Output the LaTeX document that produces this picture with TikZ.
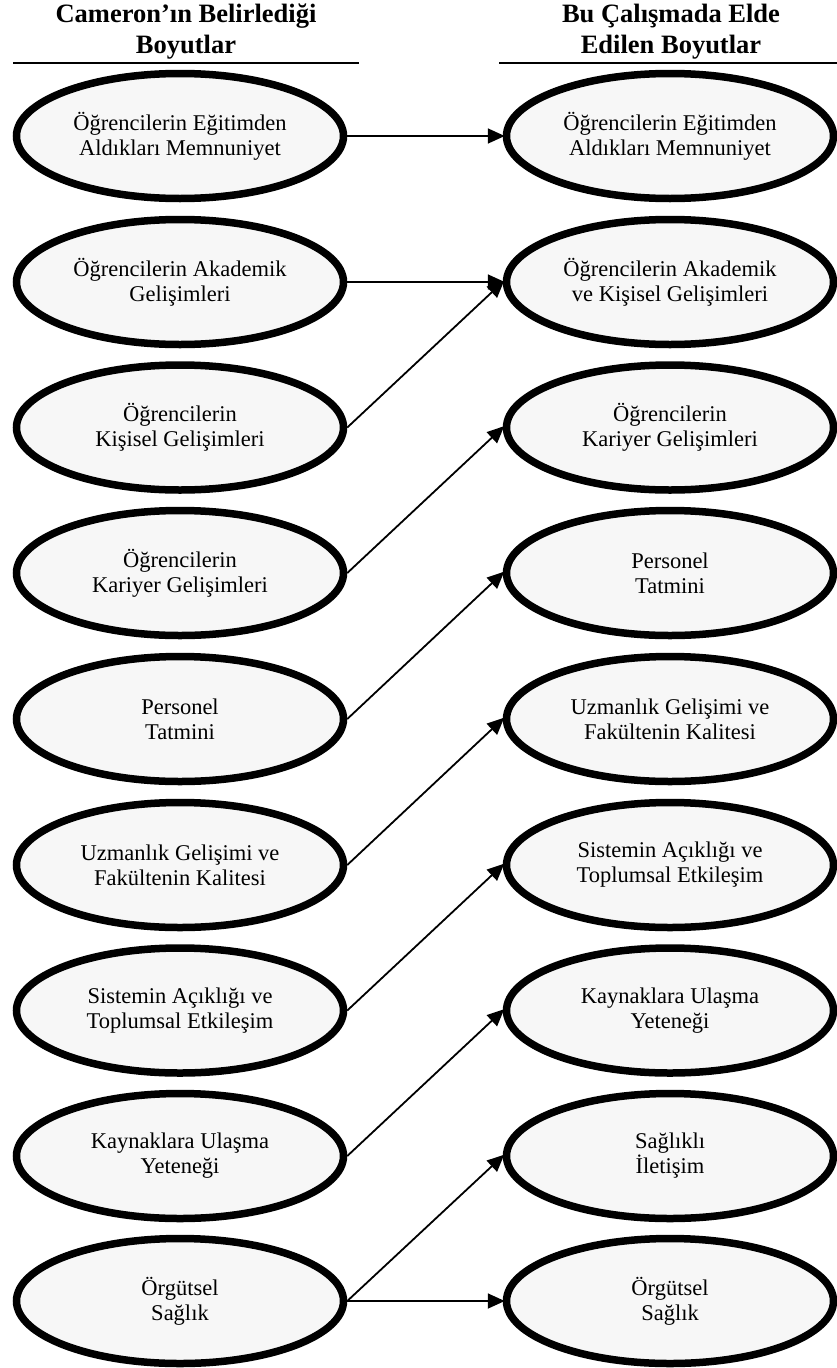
\documentclass[tikz,border=0pt]{standalone}
\usepackage{fontspec}
\setmainfont{Liberation Serif}
\usetikzlibrary{shapes.geometric,arrows.meta}
\tikzset{
  dim/.style={ellipse, draw=black, line width=7.5pt, fill=black!3,
    minimum width=327pt, minimum height=125pt, inner sep=0pt,
    align=center, font=\fontsize{22.5}{25}\selectfont},
  head/.style={align=center, inner sep=0pt, font=\fontsize{26.5}{31}\selectfont\bfseries},
  conn/.style={line width=1.8pt, -{Triangle[length=17pt,width=15pt]}, shorten >=-2pt},
  rule/.style={line width=2pt}
}
\begin{document}
\begin{tikzpicture}[x=1pt,y=-1pt]
\useasboundingbox (0,0) rectangle (837,1368);
% headers
\node[head, anchor=north] (hl) at (186,4) {Cameron’ın Belirlediği\\Boyutlar};
\node[head, anchor=north] (hr) at (671,4) {Bu Çalışmada Elde\\Edilen Boyutlar};
\coordinate (hl1) at (13,63); \coordinate (hl2) at (359,63);
\coordinate (hr1) at (499,63); \coordinate (hr2) at (837,63);
\draw[rule] (hl1) -- (hl2);
\draw[rule] (hr1) -- (hr2);
% left column
\node[dim] (L1) at (180,136) {Öğrencilerin Eğitimden\\Aldıkları Memnuniyet};
\node[dim] (L2) at (180,282) {Öğrencilerin Akademik\\Gelişimleri};
\node[dim] (L3) at (180,427.5) {Öğrencilerin\\Kişisel Gelişimleri};
\node[dim] (L4) at (180,573) {Öğrencilerin\\Kariyer Gelişimleri};
\node[dim] (L5) at (180,719) {Personel\\Tatmini};
\node[dim] (L6) at (180,865) {Uzmanlık Gelişimi ve\\Fakültenin Kalitesi};
\node[dim] (L7) at (180,1010.5) {Sistemin Açıklığı ve\\Toplumsal Etkileşim};
\node[dim] (L8) at (180,1156) {Kaynaklara Ulaşma\\Yeteneği};
\node[dim] (L9) at (180,1301) {Örgütsel\\Sağlık};
% right column
\node[dim] (R1) at (670,136) {Öğrencilerin Eğitimden\\Aldıkları Memnuniyet};
\node[dim] (R2) at (670,282) {Öğrencilerin Akademik\\ve Kişisel Gelişimleri};
\node[dim] (R3) at (670,427.5) {Öğrencilerin\\Kariyer Gelişimleri};
\node[dim] (R4) at (670,573) {Personel\\Tatmini};
\node[dim] (R5) at (670,719) {Uzmanlık Gelişimi ve\\Fakültenin Kalitesi};
\node[dim] (R6) at (670,865) {Sistemin Açıklığı ve\\Toplumsal Etkileşim};
\node[dim] (R7) at (670,1010.5) {Kaynaklara Ulaşma\\Yeteneği};
\node[dim] (R8) at (670,1156) {Sağlıklı\\İletişim};
\node[dim] (R9) at (670,1301) {Örgütsel\\Sağlık};
% connectors
\draw[conn] (L1.east) -- (R1.west);
\draw[conn] (L2.east) -- (R2.west);
\draw[conn] (L3.east) -- (R2.west);
\draw[conn] (L4.east) -- (R3.west);
\draw[conn] (L5.east) -- (R4.west);
\draw[conn] (L6.east) -- (R5.west);
\draw[conn] (L7.east) -- (R6.west);
\draw[conn] (L8.east) -- (R7.west);
\draw[conn] (L9.east) -- (R8.west);
\draw[conn] (L9.east) -- (R9.west);
\end{tikzpicture}
\end{document}
